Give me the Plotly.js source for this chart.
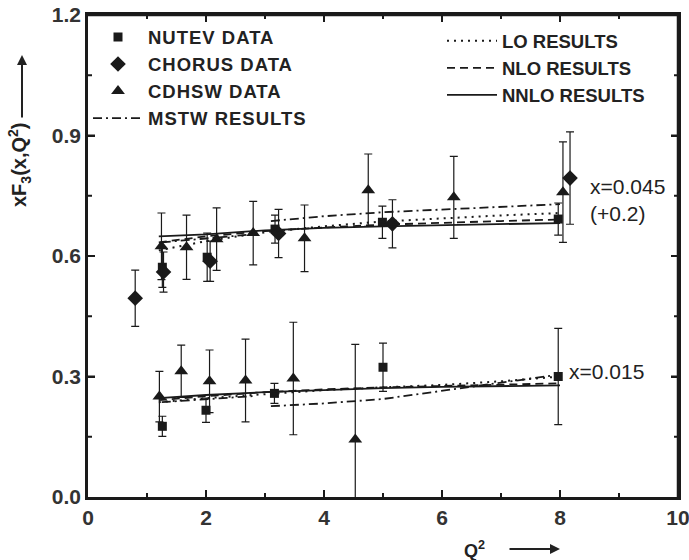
<!DOCTYPE html>
<html>
<head>
<meta charset="utf-8">
<script src="https://cdn.plot.ly/plotly-3.0.1.min.js"></script>
<style>
html,body{margin:0;padding:0;background:#fff;}
#chart{width:689px;height:560px;}
.legendtext{letter-spacing:1px;}
</style>
</head>
<body>
<div id="chart"></div>
<script>
// ---- data ----
// NUTEV (squares)
const nutevUpperX = [1.26, 2.02, 3.17, 4.99, 7.97];
const nutevUpperY = [0.572, 0.597, 0.667, 0.684, 0.692];
const nutevUpperErr = [0.05, 0.06, 0.035, 0.04, 0.04];
const nutevLowerX = [1.26, 2.0, 3.16, 5.0, 7.97];
const nutevLowerY = [0.176, 0.216, 0.258, 0.323, 0.30];
const nutevLowerErr = [0.025, 0.03, 0.025, 0.06, 0.12];
// CHORUS (diamonds)
const chorusX = [0.8, 1.28, 2.07, 3.23, 5.16, 8.17];
const chorusY = [0.495, 0.56, 0.587, 0.656, 0.68, 0.794];
const chorusErr = [0.07, 0.05, 0.05, 0.06, 0.06, 0.115];
// CDHSW (triangles)
const cdhswUpperX = [1.245, 1.67, 2.18, 2.8, 3.67, 4.75, 6.2, 8.05];
const cdhswUpperY = [0.624, 0.622, 0.642, 0.657, 0.644, 0.764, 0.746, 0.759];
const cdhswUpperErr = [0.083, 0.08, 0.078, 0.079, 0.083, 0.09, 0.102, 0.125];
const cdhswLowerX = [1.21, 1.58, 2.06, 2.67, 3.48, 4.53];
const cdhswLowerY = [0.25, 0.313, 0.288, 0.29, 0.295, 0.143];
const cdhswLowerErr = [0.063, 0.065, 0.078, 0.103, 0.14, 0.237];
// theory curves
const curveX = [1.2, 2, 3, 4, 5, 6, 7, 8];
const loUpper = [0.614, 0.637, 0.659, 0.674, 0.686, 0.694, 0.701, 0.707];
const nloUpper = [0.634, 0.649, 0.662, 0.671, 0.678, 0.683, 0.687, 0.691];
const nnloUpper = [0.649, 0.654, 0.664, 0.670, 0.674, 0.677, 0.680, 0.682];
const loLower = [0.236, 0.246, 0.256, 0.266, 0.273, 0.279, 0.288, 0.300];
const nloLower = [0.241, 0.251, 0.261, 0.268, 0.273, 0.276, 0.280, 0.283];
const nnloLower = [0.246, 0.254, 0.261, 0.266, 0.271, 0.274, 0.276, 0.278];
const mstwX1 = [1.25, 2.0, 2.8];
const mstwUpper1 = [0.634, 0.644, 0.654];
const mstwLower1 = [0.236, 0.244, 0.251];
const mstwX2 = [3.1, 4, 5, 6, 7, 8];
const mstwUpper2 = [0.687, 0.699, 0.709, 0.716, 0.722, 0.729];
const mstwLower2 = [0.226, 0.233, 0.244, 0.264, 0.284, 0.305];
// axes
const xRange = [0, 10];
const yRange = [0, 1.2];
const xMajorTicks = [2, 4, 6, 8];
const xMinorTicks = [1, 3, 5, 7, 9];
const yMajorTicks = [0.3, 0.6, 0.9];
const yMinorTicks = [0.15, 0.45, 0.75, 1.05];

const INK = '#1a1a1a';
const FONT = 'Liberation Sans, Arial, Helvetica, sans-serif';
const PLOT_W = 590, PLOT_H = 482;

function errBar(arr) {
  return {type: 'data', array: arr, visible: true, color: INK, thickness: 1.2, width: 4};
}
function joinLines(xa, ya, xb, yb) {
  return {x: xa.concat([null], xb), y: ya.concat([null], yb)};
}

const nutev = {
  name: 'NUTEV DATA', type: 'scatter', mode: 'markers',
  x: nutevUpperX.concat(nutevLowerX), y: nutevUpperY.concat(nutevLowerY),
  error_y: errBar(nutevUpperErr.concat(nutevLowerErr)),
  marker: {symbol: 'square', size: 9, color: INK}
};
const chorus = {
  name: 'CHORUS DATA', type: 'scatter', mode: 'markers',
  x: chorusX, y: chorusY, error_y: errBar(chorusErr),
  marker: {symbol: 'diamond', size: 12, color: INK}
};
const cdhsw = {
  name: 'CDHSW DATA', type: 'scatter', mode: 'markers',
  x: cdhswUpperX.concat(cdhswLowerX), y: cdhswUpperY.concat(cdhswLowerY),
  error_y: errBar(cdhswUpperErr.concat(cdhswLowerErr)),
  marker: {symbol: 'triangle-up', size: 12, color: INK}
};
const mU = joinLines(mstwX1, mstwUpper1, mstwX2, mstwUpper2);
const mL = joinLines(mstwX1, mstwLower1, mstwX2, mstwLower2);
const mstw = {
  name: 'MSTW RESULTS', type: 'scatter', mode: 'lines',
  x: mU.x.concat([null], mL.x), y: mU.y.concat([null], mL.y),
  line: {color: INK, width: 1.8, dash: '9px,4px,2px,4px'}
};
const lo = joinLines(curveX, loUpper, curveX, loLower);
const nlo = joinLines(curveX, nloUpper, curveX, nloLower);
const nnlo = joinLines(curveX, nnloUpper, curveX, nnloLower);
const loTr = {name: 'LO RESULTS', type: 'scatter', mode: 'lines', legend: 'legend2',
  x: lo.x, y: lo.y, line: {color: INK, width: 2, dash: '2px,5px'}};
const nloTr = {name: 'NLO RESULTS', type: 'scatter', mode: 'lines', legend: 'legend2',
  x: nlo.x, y: nlo.y, line: {color: INK, width: 1.8, dash: '8px,5px'}};
const nnloTr = {name: 'NNLO RESULTS', type: 'scatter', mode: 'lines', legend: 'legend2',
  x: nnlo.x, y: nnlo.y, line: {color: INK, width: 1.8}};

// frame (top & right edges) and inside tick marks on all four sides, placed on the axis scales
const shapes = [
  {type: 'line', xref: 'paper', yref: 'paper', x0: 0, x1: 1, y0: 1, y1: 1, line: {color: INK, width: 2.5}},
  {type: 'line', xref: 'paper', yref: 'paper', x0: 1, x1: 1, y0: 0, y1: 1, line: {color: INK, width: 2.5}}
];
function addXTicks(vals, len) {
  vals.forEach(function (v) {
    shapes.push({type: 'line', xref: 'x', yref: 'paper', x0: v, x1: v, y0: 0, y1: len / PLOT_H, line: {color: INK, width: 2}});
    shapes.push({type: 'line', xref: 'x', yref: 'paper', x0: v, x1: v, y0: 1 - len / PLOT_H, y1: 1, line: {color: INK, width: 2}});
  });
}
function addYTicks(vals, len) {
  vals.forEach(function (v) {
    shapes.push({type: 'line', xref: 'paper', yref: 'y', x0: 0, x1: len / PLOT_W, y0: v, y1: v, line: {color: INK, width: 2}});
    shapes.push({type: 'line', xref: 'paper', yref: 'y', x0: 1 - len / PLOT_W, x1: 1, y0: v, y1: v, line: {color: INK, width: 2}});
  });
}
addXTicks(xMajorTicks, 7); addXTicks(xMinorTicks, 4);
addYTicks(yMajorTicks, 7); addYTicks(yMinorTicks, 4);

const tickFont = {family: FONT, size: 21, color: '#333', weight: 'bold'};
const legendFont = {family: FONT, size: 18.5, color: '#222', weight: 'bold'};

const layout = {
  width: 689, height: 560,
  margin: {l: 88, r: 11, t: 15, b: 63},
  paper_bgcolor: '#fff', plot_bgcolor: '#fff',
  showlegend: true,
  xaxis: {
    range: xRange, dtick: 2, ticks: 'inside', ticklen: 7, tickwidth: 2, tickcolor: INK,
    showline: true, mirror: 'ticks', linewidth: 2.5, linecolor: INK,
    showgrid: false, zeroline: false, ticklabeloverflow: 'allow', tickfont: tickFont
  },
  yaxis: {
    range: yRange, dtick: 0.3, tickformat: '.1f', ticks: 'inside', ticklen: 7, tickwidth: 2,
    tickcolor: INK, showline: true, mirror: 'ticks', linewidth: 2.5, linecolor: INK,
    showgrid: false, zeroline: false, tickfont: tickFont
  },
  shapes: shapes,
  legend: {
    x: 0.0, y: 0.993, xanchor: 'left', yanchor: 'top',
    bgcolor: 'rgba(0,0,0,0)', borderwidth: 0, itemwidth: 50,
    font: legendFont, traceorder: 'normal', tracegroupgap: 0
  },
  legend2: {
    x: 0.6, y: 0.985, xanchor: 'left', yanchor: 'top',
    bgcolor: 'rgba(0,0,0,0)', borderwidth: 0, itemwidth: 50,
    font: legendFont, traceorder: 'normal'
  },
  annotations: [
    {xref: 'x', yref: 'y', x: 8.48, y: 0.774, xanchor: 'left', yanchor: 'middle', showarrow: false,
     text: 'x=0.045', font: {family: FONT, size: 21, color: '#222'}},
    {xref: 'x', yref: 'y', x: 8.48, y: 0.7065, xanchor: 'left', yanchor: 'middle', showarrow: false,
     text: '(+0.2)', font: {family: FONT, size: 21, color: '#222'}},
    {xref: 'x', yref: 'y', x: 8.12, y: 0.313, xanchor: 'left', yanchor: 'middle', showarrow: false,
     text: 'x=0.015', font: {family: FONT, size: 21, color: '#222'}},
    // y-axis title
    {xref: 'paper', yref: 'paper', x: (19 - 88) / 590, y: (497 - 165) / 482, textangle: -90,
     xanchor: 'center', yanchor: 'middle', showarrow: false,
     text: 'xF<sub>3</sub>(x,Q<sup>2</sup>)', font: {family: FONT, size: 20, color: '#222', weight: 'bold'}},
    {xref: 'paper', yref: 'paper', x: (22 - 88) / 590, y: (497 - 55) / 482, ax: 0, ay: 64,
     showarrow: true, arrowhead: 2, arrowsize: 1, arrowwidth: 2,
     arrowcolor: '#222', text: ''},
    // x-axis title
    {xref: 'paper', yref: 'paper', x: (474 - 88) / 590, y: (497 - 549) / 482,
     xanchor: 'center', yanchor: 'middle', showarrow: false,
     text: 'Q<sup>2</sup>', font: {family: FONT, size: 18, color: '#222', weight: 'bold'}},
    {xref: 'paper', yref: 'paper', x: (560 - 88) / 590, y: (497 - 549) / 482, ax: -52, ay: 0,
     showarrow: true, arrowhead: 2, arrowsize: 1, arrowwidth: 2, arrowcolor: '#222', text: ''}
  ]
};

Plotly.newPlot('chart', [nutev, chorus, cdhsw, mstw, loTr, nloTr, nnloTr], layout,
  {displayModeBar: false});
</script>
</body>
</html>
